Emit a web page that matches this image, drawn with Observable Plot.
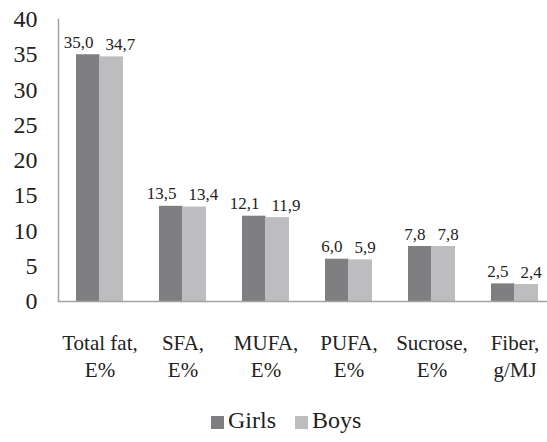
<!DOCTYPE html>
<html>
<head>
<meta charset="utf-8">
<script src="https://cdn.jsdelivr.net/npm/d3@7"></script>
<script src="https://cdn.jsdelivr.net/npm/@observablehq/plot@0.6"></script>
</head>
<body style="margin:0;font-family:'Liberation Serif'">
<div id="chart"></div>
<div id="legend" style="margin-left:211px;margin-top:6px;display:flex;align-items:center;font-family:'Liberation Serif';font-size:24px;line-height:28px;color:#222"></div>
<script>
const categories = ["Total fat", "SFA", "MUFA", "PUFA", "Sucrose", "Fiber"];
const categoryLabels = ["Total fat,\nE%", "SFA,\nE%", "MUFA,\nE%", "PUFA,\nE%", "Sucrose,\nE%", "Fiber,\ng/MJ"];
const girls = [35.0, 13.5, 12.1, 6.0, 7.8, 2.5];
const boys = [34.7, 13.4, 11.9, 5.9, 7.8, 2.4];
const series = ["Girls", "Boys"];
const colors = ["#7f7f81", "#bdbdbf"];
const yTicks = [0, 5, 10, 15, 20, 25, 30, 35, 40];

const data = categories.map((c, i) => ({cat: c, girls: girls[i], boys: boys[i]}));
const labelOf = new Map(categories.map((c, i) => [c, categoryLabels[i]]));
const fmt = v => v.toFixed(1).replace(".", ",");

const chart = Plot.plot({
  width: 547,
  height: 400,
  marginLeft: 58,
  marginRight: 0,
  marginTop: 19,
  marginBottom: 99,
  style: {fontFamily: "'Liberation Serif'"},
  x: {type: "band", domain: categories, range: [58, 556], padding: 0},
  y: {domain: [0, 40]},
  marks: [
    Plot.barY(data, {x: "cat", y: "girls", fill: colors[0], insetLeft: 18, insetRight: 41.5}),
    Plot.barY(data, {x: "cat", y: "boys", fill: colors[1], insetLeft: 41.5, insetRight: 18}),
    Plot.text(data, {x: "cat", y: "girls", text: d => fmt(d.girls), textAnchor: "end", dx: -6.5, dy: -7, lineAnchor: "bottom", fontSize: 17, fill: "#222"}),
    Plot.text(data, {x: "cat", y: "boys", text: d => fmt(d.boys), textAnchor: "start", dx: 5.5, dy: -7, lineAnchor: "bottom", fontSize: 17, fill: "#222"}),
    Plot.frame({anchor: "left", stroke: "#a3a3a3", strokeWidth: 1.5}),
    Plot.frame({anchor: "bottom", stroke: "#a3a3a3", strokeWidth: 1.5}),
    Plot.axisY({ticks: yTicks, tickSize: 0, tickPadding: 21, fontSize: 24, label: null, fill: "#222"}),
    Plot.axisX({tickSize: 0, tickPadding: 29, fontSize: 21, lineHeight: 1.29, label: null, tickFormat: d => labelOf.get(d), fill: "#222"})
  ]
});
document.getElementById("chart").appendChild(chart);

const legend = document.getElementById("legend");
series.forEach((s, i) => {
  const item = document.createElement("span");
  item.style.cssText = "display:flex;align-items:center;margin-right:19px";
  const sw = document.createElement("span");
  sw.style.cssText = "width:13px;height:13px;display:inline-block;margin-right:4px;position:relative;top:2px;background:" + colors[i];
  item.appendChild(sw);
  item.appendChild(document.createTextNode(s));
  legend.appendChild(item);
});
</script>
</body>
</html>
